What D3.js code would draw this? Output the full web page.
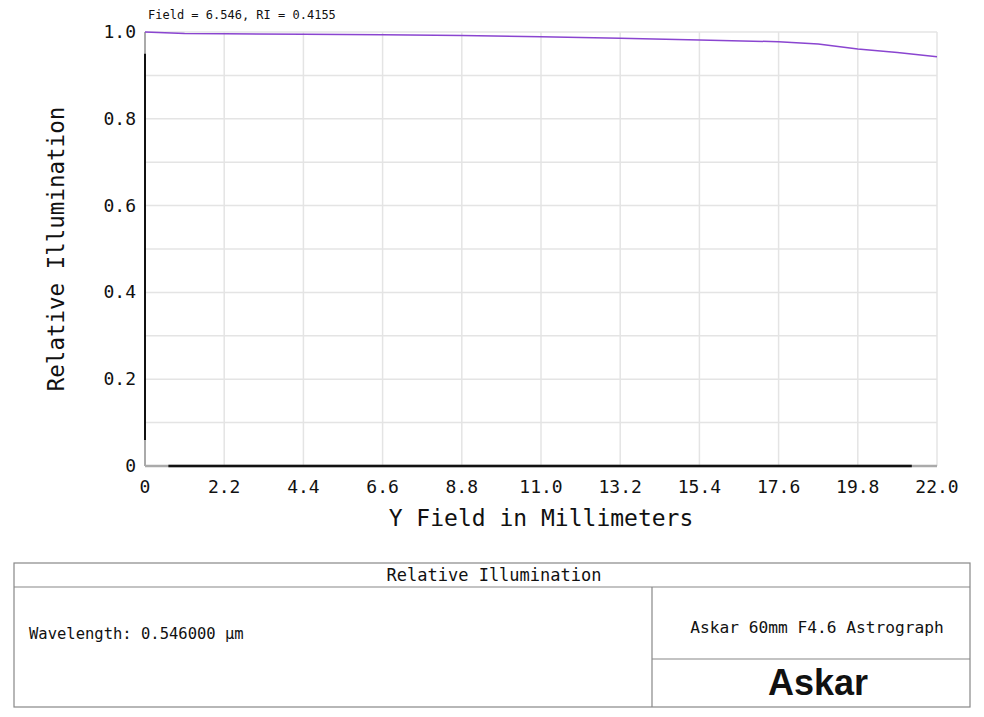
<!DOCTYPE html>
<html><head><meta charset="utf-8">
<script src="https://cdn.jsdelivr.net/npm/d3@7"></script>
<style>body{margin:0;background:#fff}svg{display:block}</style>
</head><body>
<svg id="c" width="984" height="717"></svg>
<script>
const fieldMM = [0, 1.1, 2.2, 4.4, 6.6, 8.8, 11.0, 13.2, 15.4, 17.6, 18.7, 19.8, 20.9, 22.0];
const relIllum = [1.0, 0.9965, 0.996, 0.995, 0.9935, 0.992, 0.989, 0.9855, 0.9816, 0.9776, 0.9724, 0.9608, 0.953, 0.9431];
const xTicks = [0, 2.2, 4.4, 6.6, 8.8, 11.0, 13.2, 15.4, 17.6, 19.8, 22.0];
const xTickLabels = ["0","2.2","4.4","6.6","8.8","11.0","13.2","15.4","17.6","19.8","22.0"];
const yTicks = [0, 0.2, 0.4, 0.6, 0.8, 1.0];
const yTickLabels = ["0","0.2","0.4","0.6","0.8","1.0"];
const yGrid = [0.1,0.2,0.3,0.4,0.5,0.6,0.7,0.8,0.9,1.0];

const mono = "'DejaVu Sans Mono', 'Liberation Mono', monospace";
const svg = d3.select("#c");
const x = d3.scaleLinear().domain([0, 22]).range([145, 937]);
const y = d3.scaleLinear().domain([0, 1]).range([466, 32]);

// grid
svg.append("g").selectAll("line").data(xTicks.slice(1)).join("line")
  .attr("x1", d => x(d)).attr("x2", d => x(d)).attr("y1", y(1)).attr("y2", y(0))
  .attr("stroke", "#e4e4e4").attr("stroke-width", 1.5);
svg.append("g").selectAll("line").data(yGrid).join("line")
  .attr("x1", x(0)).attr("x2", x(22)).attr("y1", d => y(d)).attr("y2", d => y(d))
  .attr("stroke", "#e4e4e4").attr("stroke-width", 1.5);

// axes lines
svg.append("line").attr("x1", x(0)).attr("x2", x(0)).attr("y1", y(1)).attr("y2", y(0))
  .attr("stroke", "#aaa").attr("stroke-width", 2);
svg.append("line").attr("x1", x(0)).attr("x2", x(0)).attr("y1", y(0.95)).attr("y2", y(0.06))
  .attr("stroke", "#111").attr("stroke-width", 2);
svg.append("line").attr("x1", x(0)).attr("x2", x(22)).attr("y1", y(0)).attr("y2", y(0))
  .attr("stroke", "#aaa").attr("stroke-width", 2.5);
svg.append("line").attr("x1", x(0.65)).attr("x2", x(21.3)).attr("y1", y(0)).attr("y2", y(0))
  .attr("stroke", "#111").attr("stroke-width", 2.5);

// tick labels
svg.append("g").selectAll("text").data(xTicks).join("text")
  .attr("x", d => x(d)).attr("y", 493).attr("text-anchor", "middle")
  .attr("font-family", mono).attr("font-size", 18).attr("fill", "#111")
  .text((d, i) => xTickLabels[i]);
svg.append("g").selectAll("text").data(yTicks).join("text")
  .attr("x", 136).attr("y", d => y(d) + 6).attr("text-anchor", "end")
  .attr("font-family", mono).attr("font-size", 18).attr("fill", "#111")
  .text((d, i) => yTickLabels[i]);

// axis titles
svg.append("text").attr("x", 541).attr("y", 526).attr("text-anchor", "middle")
  .attr("font-family", mono).attr("font-size", 23).attr("fill", "#111")
  .text("Y Field in Millimeters");
svg.append("text").attr("transform", "translate(64,249) rotate(-90)").attr("text-anchor", "middle")
  .attr("font-family", mono).attr("font-size", 22.5).attr("fill", "#111")
  .text("Relative Illumination");

// top annotation
svg.append("text").attr("x", 148).attr("y", 19)
  .attr("font-family", mono).attr("font-size", 12).attr("fill", "#111")
  .text("Field = 6.546, RI = 0.4155");

// curve
svg.append("path").datum(fieldMM.map((f, i) => [f, relIllum[i]]))
  .attr("fill", "none").attr("stroke", "#8a45d0").attr("stroke-width", 1.5)
  .attr("d", d3.line().x(d => x(d[0])).y(d => y(d[1])));

// bottom table
const t = svg.append("g").attr("stroke", "#888").attr("stroke-width", 1.2).attr("fill", "none");
t.append("rect").attr("x", 14).attr("y", 563).attr("width", 956).attr("height", 144);
t.append("line").attr("x1", 14).attr("x2", 970).attr("y1", 587).attr("y2", 587);
t.append("line").attr("x1", 652).attr("x2", 652).attr("y1", 587).attr("y2", 707);
t.append("line").attr("x1", 652).attr("x2", 970).attr("y1", 659).attr("y2", 659);

svg.append("text").attr("x", 494).attr("y", 581).attr("text-anchor", "middle")
  .attr("font-family", mono).attr("font-size", 17).attr("fill", "#111")
  .text("Relative Illumination");
svg.append("text").attr("x", 29).attr("y", 639)
  .attr("font-family", mono).attr("font-size", 15.5).attr("fill", "#111")
  .text("Wavelength: 0.546000 µm");
svg.append("text").attr("x", 817).attr("y", 633).attr("text-anchor", "middle")
  .attr("font-family", mono).attr("font-size", 16.2).attr("fill", "#111")
  .text("Askar 60mm F4.6 Astrograph");
svg.append("text").attr("x", 818).attr("y", 695).attr("text-anchor", "middle")
  .attr("font-family", "'Liberation Sans', Arial, sans-serif").attr("font-weight", "bold")
  .attr("font-size", 36).attr("fill", "#111")
  .text("Askar");
</script>
</body></html>
